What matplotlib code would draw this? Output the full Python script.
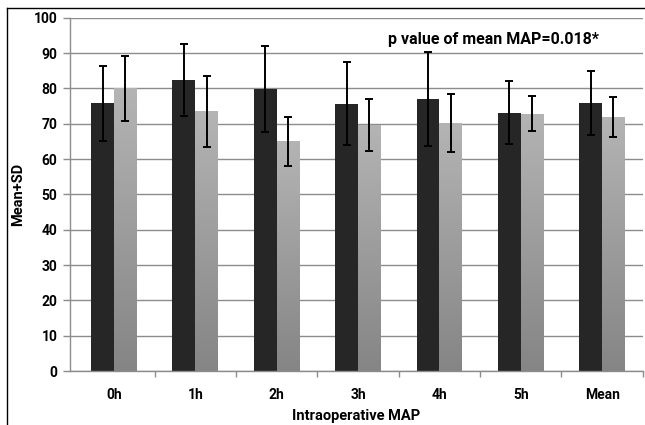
import numpy as np
import matplotlib
matplotlib.use("Agg")
import matplotlib.pyplot as plt
from matplotlib.lines import Line2D

# data
categories = ['0h', '1h', '2h', '3h', '4h', '5h', 'Mean']
group_a = [75.8, 82.4, 79.8, 75.7, 77.1, 73.2, 75.8]
sd_a = [10.7, 10.1, 12.1, 11.8, 13.3, 8.8, 9.1]
group_b = [80.0, 73.5, 65.0, 69.6, 70.2, 72.9, 72.0]
sd_b = [9.3, 10.0, 6.9, 7.3, 8.3, 4.9, 5.7]
yticks = [0, 10, 20, 30, 40, 50, 60, 70, 80, 90, 100]

plt.rcParams['font.family'] = ['Roboto', 'DejaVu Sans']
plt.rcParams['font.weight'] = 'bold'

fig = plt.figure(figsize=(6.45, 4.25), dpi=100)
ax = fig.add_axes([0.1085, 0.127, 0.888, 0.831])

x = np.arange(len(categories))
w = 0.28
grey = '#8c8c8c'

ax.set_axisbelow(True)
ax.yaxis.grid(True, color=grey, linewidth=1)

bars_a = ax.bar(x - w / 2, group_a, w, color='#262626', zorder=2)
bars_b = ax.bar(x + w / 2, group_b, w, color='none', zorder=2)

# gradient fill for the light bars
grad = np.linspace(0, 1, 256).reshape(-1, 1)
cmap = matplotlib.colors.LinearSegmentedColormap.from_list('g', ['#b4b4b4', '#858585'])
for b in bars_b:
    bx, by = b.get_x(), b.get_y()
    bw, bh = b.get_width(), b.get_height()
    im = ax.imshow(grad, cmap=cmap, aspect='auto', zorder=2,
                   extent=[bx, bx + bw, by, by + bh], origin='upper')
    im.set_clip_path(b)

ax.errorbar(x - w / 2, group_a, yerr=sd_a, fmt='none', ecolor='black',
            elinewidth=1.4, capsize=3, capthick=1.4, zorder=3)
ax.errorbar(x + w / 2, group_b, yerr=sd_b, fmt='none', ecolor='black',
            elinewidth=1.4, capsize=3, capthick=1.4, zorder=3)

ax.set_xlim(-0.54, len(categories) - 0.5)
ax.set_ylim(0, 100)
ax.set_yticks(yticks)
ax.set_xticks(x)
ax.set_xticklabels(categories)
ax.set_xticks(np.arange(1, len(categories) + 1) - 0.5, minor=True)
ax.tick_params(axis='x', which='major', length=0, pad=12, labelsize=10)
ax.tick_params(axis='x', which='minor', length=4, color=grey, width=1)
ax.tick_params(axis='y', length=5, color=grey, width=1, labelsize=10, pad=4)

for s in ['top', 'right']:
    ax.spines[s].set_visible(False)
for s in ['left', 'bottom']:
    ax.spines[s].set_color(grey)
    ax.spines[s].set_linewidth(1)

ax.set_xlabel('Intraoperative MAP', fontsize=10.5, fontweight='bold', labelpad=5.5)
ax.set_ylabel('Mean+SD', fontsize=10.5, fontweight='bold', labelpad=6)

ax.text(4.66, 94, 'p value of mean MAP=0.018*', fontsize=11.5, fontweight='bold',
        ha='center', va='center')

# outer frame lines (top and left)
fig.add_artist(Line2D([7 / 645, 1], [1 - 8 / 425, 1 - 8 / 425], color='black', linewidth=1,
                      transform=fig.transFigure))
fig.add_artist(Line2D([7 / 645, 7 / 645], [0, 1 - 8 / 425], color='black', linewidth=1,
                      transform=fig.transFigure))

fig.savefig('out.png', dpi=100)
